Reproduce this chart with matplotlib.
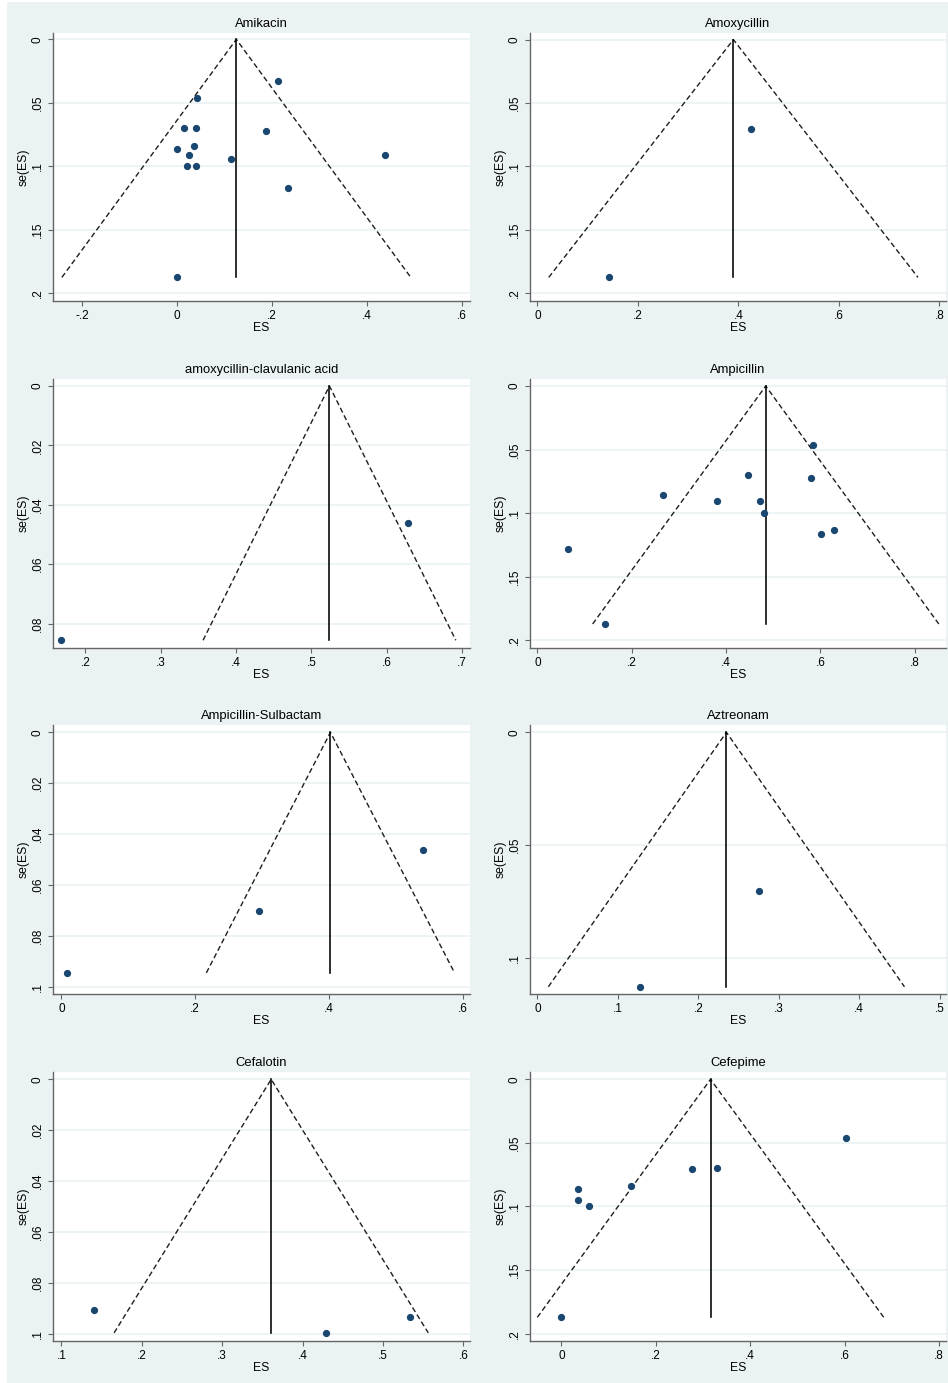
import numpy as np
import matplotlib.pyplot as plt
from matplotlib.patches import Rectangle

plt.rcParams['font.family'] = ['Liberation Sans', 'DejaVu Sans']

drugs = ['Amikacin', 'Amoxycillin', 'amoxycillin-clavulanic acid', 'Ampicillin',
         'Ampicillin-Sulbactam', 'Aztreonam', 'Cefalotin', 'Cefepime']

# study effect sizes and standard errors
amikacin_es = [0.213, 0.043, 0.015, 0.040, 0.187, 0.000, 0.035, 0.025, 0.439, 0.114, 0.021, 0.041, 0.234, 0.000]
amikacin_se = [0.033, 0.0465, 0.070, 0.070, 0.072, 0.086, 0.084, 0.091, 0.091, 0.094, 0.100, 0.100, 0.117, 0.1874]
amoxy_es = [0.425, 0.143]
amoxy_se = [0.0706, 0.1874]
amoxyclav_es = [0.628, 0.167]
amoxyclav_se = [0.0461, 0.0856]
ampi_es = [0.585, 0.446, 0.580, 0.267, 0.381, 0.471, 0.480, 0.628, 0.602, 0.066, 0.143]
ampi_se = [0.0465, 0.070, 0.072, 0.086, 0.0906, 0.0906, 0.0997, 0.113, 0.1165, 0.128, 0.1871]
ampisulb_es = [0.541, 0.296, 0.0085]
ampisulb_se = [0.0464, 0.0702, 0.0946]
aztreonam_es = [0.276, 0.128]
aztreonam_se = [0.0703, 0.1129]
cefalotin_es = [0.140, 0.534, 0.429]
cefalotin_se = [0.0907, 0.0933, 0.0997]
cefepime_es = [0.603, 0.276, 0.330, 0.148, 0.036, 0.035, 0.059, 0.000]
cefepime_se = [0.0464, 0.0702, 0.070, 0.084, 0.086, 0.0946, 0.0996, 0.1872]

es_values = [amikacin_es, amoxy_es, amoxyclav_es, ampi_es,
             ampisulb_es, aztreonam_es, cefalotin_es, cefepime_es]
se_values = [amikacin_se, amoxy_se, amoxyclav_se, ampi_se,
             ampisulb_se, aztreonam_se, cefalotin_se, cefepime_se]

# pooled estimate for each drug
pooled_es = [0.125, 0.390, 0.524, 0.484, 0.402, 0.235, 0.361, 0.316]

x_ticks = [[-0.2, 0, 0.2, 0.4, 0.6],
           [0, 0.2, 0.4, 0.6, 0.8],
           [0.2, 0.3, 0.4, 0.5, 0.6, 0.7],
           [0, 0.2, 0.4, 0.6, 0.8],
           [0, 0.2, 0.4, 0.6],
           [0, 0.1, 0.2, 0.3, 0.4, 0.5],
           [0.1, 0.2, 0.3, 0.4, 0.5, 0.6],
           [0, 0.2, 0.4, 0.6, 0.8]]
y_ticks = [[0, 0.05, 0.1, 0.15, 0.2],
           [0, 0.05, 0.1, 0.15, 0.2],
           [0, 0.02, 0.04, 0.06, 0.08],
           [0, 0.05, 0.1, 0.15, 0.2],
           [0, 0.02, 0.04, 0.06, 0.08, 0.1],
           [0, 0.05, 0.1],
           [0, 0.02, 0.04, 0.06, 0.08, 0.1],
           [0, 0.05, 0.1, 0.15, 0.2]]

x_lims = [(-0.261, 0.617), (-0.0146, 0.813), (0.157, 0.7106), (-0.0155, 0.866),
          (-0.0125, 0.6105), (-0.0091, 0.5079), (0.0896, 0.6083), (-0.0664, 0.8148)]
y_lims = [(-0.005, 0.206), (-0.0052, 0.206), (-0.00236, 0.0882), (-0.0055, 0.206),
          (-0.00288, 0.1029), (-0.00325, 0.1161), (-0.00288, 0.1029), (-0.00577, 0.2058)]


def stata_fmt(v):
    s = f'{round(v, 4):g}'
    if s.startswith('0.'):
        s = s[1:]
    elif s.startswith('-0.'):
        s = '-' + s[2:]
    return s


W, H = 948, 1383
bg = '#EAF2F3'
navy = '#1A476F'
axis_col = '#666666'

fig = plt.figure(figsize=(W / 100, H / 100), dpi=100, facecolor=bg)
fig.patches.append(Rectangle((0, 0), 7 / W, 1, transform=fig.transFigure,
                             facecolor='white', edgecolor='none', zorder=-1))
fig.patches.append(Rectangle((0, 1 - 2 / H), 1, 2 / H, transform=fig.transFigure,
                             facecolor='white', edgecolor='none', zorder=-1))

col_x = [(53, 470), (530, 946)]
row_y = [(33, 301), (379, 648), (725, 994), (1072, 1341)]

for i, name in enumerate(drugs):
    x0, x1 = col_x[i % 2]
    y0, y1 = row_y[i // 2]
    ax = fig.add_axes([x0 / W, 1 - y1 / H, (x1 - x0) / W, (y1 - y0) / H], facecolor='white')

    es = np.array(es_values[i])
    se = np.array(se_values[i])
    p = pooled_es[i]
    smax = se.max()

    for t in y_ticks[i]:
        ax.axhline(t, color=bg, lw=1.2, zorder=0)

    # pseudo 95% limits and pooled estimate
    ax.plot([p - 1.96 * smax, p, p + 1.96 * smax], [smax, 0, smax],
            color='#1e1e1e', lw=1.0, dashes=(3.8, 2.2), zorder=2)
    ax.plot([p, p], [0, smax], color='black', lw=1.15, zorder=2)
    ax.plot(es, se, 'o', ms=4.2, color=navy, mec=navy, zorder=3)

    ax.set_xlim(*x_lims[i])
    ax.set_ylim(y_lims[i][1], y_lims[i][0])
    ax.set_xticks(x_ticks[i])
    ax.set_xticklabels([stata_fmt(v) for v in x_ticks[i]])
    ax.set_yticks(y_ticks[i])
    ax.set_yticklabels([stata_fmt(v) for v in y_ticks[i]], rotation=90, va='center')

    for side in ['top', 'right']:
        ax.spines[side].set_visible(False)
    for side in ['left', 'bottom']:
        ax.spines[side].set_color(axis_col)
        ax.spines[side].set_linewidth(1.0)
    ax.tick_params(axis='both', length=3.5, width=0.8, color=axis_col,
                   labelsize=8.5, labelcolor='black', pad=3.0)

    ax.set_title(name, fontsize=9.4, pad=4)
    ax.set_xlabel('ES', fontsize=8.8, labelpad=0)
    ax.set_ylabel('se(ES)', fontsize=8.8, labelpad=2)

fig.savefig('out.png', dpi=100, facecolor=bg)
